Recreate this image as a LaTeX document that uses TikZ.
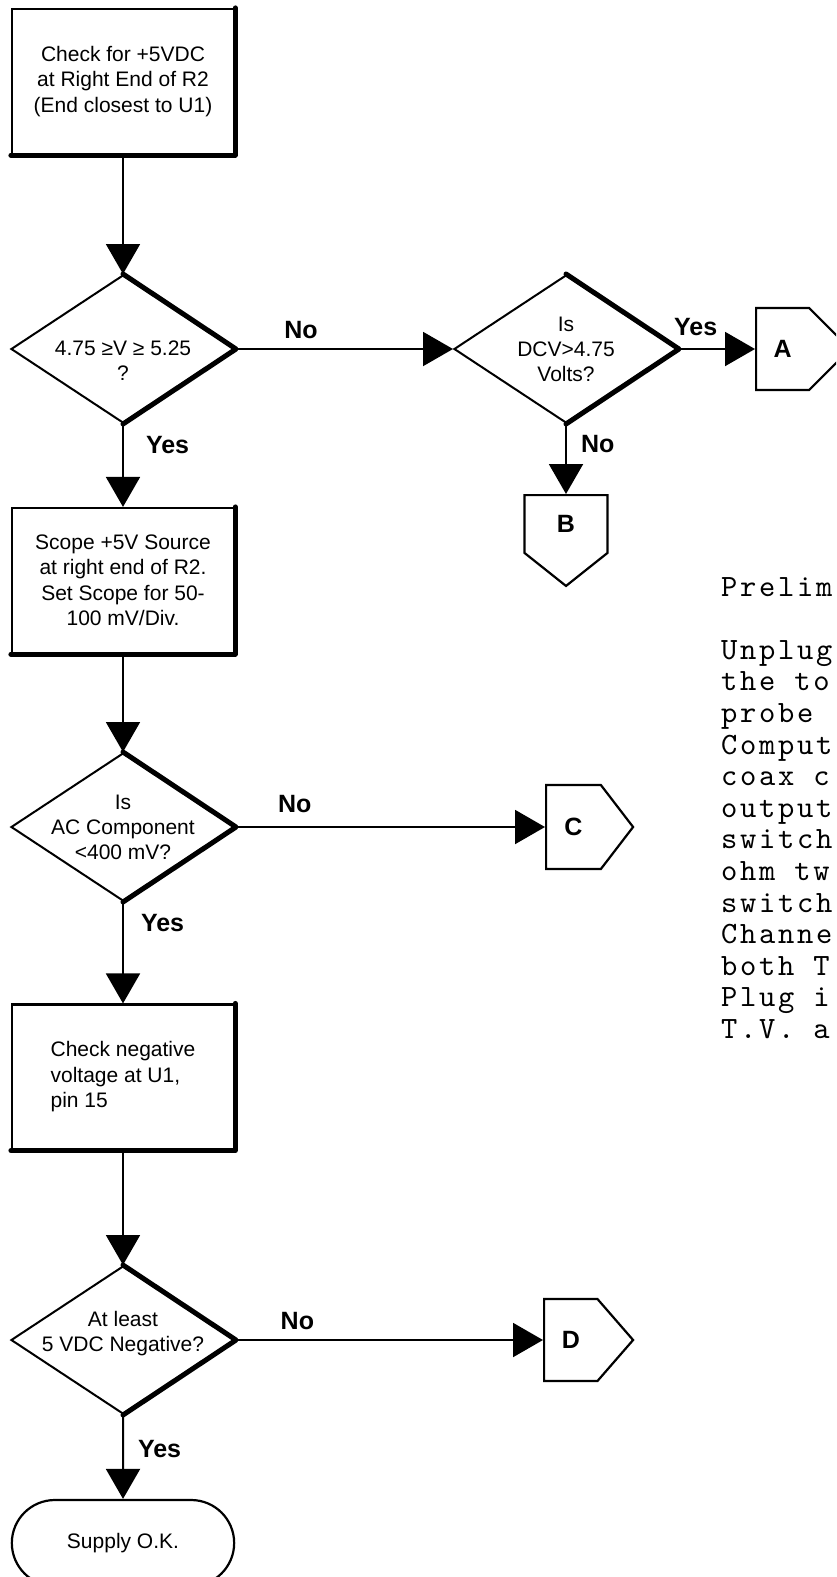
\documentclass[tikz,border=0pt]{standalone}
\usepackage{fontspec}
\setmainfont{Liberation Sans}
\newfontfamily\typewriter{lmmono10-regular}[Extension=.otf, LetterSpace=8.7]
\usetikzlibrary{shapes.geometric,shapes.symbols,shapes.misc,arrows.meta,positioning}
\tikzset
{
    process/.style={rectangle, draw=black, line width=2.2pt, minimum width=222pt, minimum height=145pt, align=center, font=\fontsize{21}{25.5}\selectfont},
    decision/.style={diamond, draw=black, line width=2pt, aspect=1.5, minimum width=224pt, minimum height=148pt, inner sep=-20pt, align=center, font=\fontsize{21}{25}\selectfont},
    terminal/.style={rounded rectangle, draw=black, line width=2.2pt, minimum width=229pt, minimum height=86pt, font=\fontsize{21}{25}\selectfont},
    offpage/.style={signal, draw=black, line width=2.2pt, signal pointer angle=105, inner sep=0pt, font=\bfseries\fontsize{25}{25}\selectfont},
    heavy/.style={line width=5pt, line cap=round, line join=round},
    arrow/.style={line width=2pt, -{Triangle[width=34pt,length=30pt]}},
    answer/.style={inner sep=0pt, font=\bfseries\fontsize{25}{25}\selectfont},
    notes/.style={anchor=north west, align=left, inner sep=0pt, font=\typewriter\fontsize{31}{31.6}\selectfont}
}

\begin{document}
\begin{tikzpicture}[node distance=250pt]
	\useasboundingbox (0,0) rectangle (836pt,-1577pt);
	\clip (0,0) rectangle (836pt,-1577pt);
	% main column
	\node (chk) [process] at (123pt,-81.5pt) {Check for +5VDC\\at Right End of R2\\(End closest to U1)};
	\node (d1) [decision, below of=chk, yshift=-17.5pt] {\rule{0pt}{37pt}4.75 ≥V ≥ 5.25\\?};
	\node (scope) [process, below of=d1, yshift=18.5pt] {Scope +5V Source\\at right end of R2.\\Set Scope for 50-\\100 mV/Div.};
	\node (d3) [decision, below of=scope, yshift=3.5pt] {Is\\AC Component\\<400 mV?};
	\node (neg) [process, below of=d3, align=left] {Check negative\\voltage at U1,\\pin 15};
	\node (d4) [decision, below of=neg, yshift=-13pt] {At least\\5 VDC Negative?\\[-8pt]\mbox{}};
	\node (ok) [terminal, below of=d4, yshift=47pt] {Supply O.K.};
	% side branch
	\node (d2) [decision, right of=d1, xshift=193pt] {Is\\DCV>4.75\\Volts?};
	\node (conA) [offpage, signal to=east, signal pointer angle=90, minimum width=94pt, minimum height=82pt, right of=d2, xshift=-61pt, anchor=west] {A};
	\node (conB) [offpage, signal to=south, signal pointer angle=103, minimum width=83pt, minimum height=65pt, below of=d2, yshift=105pt, anchor=north] {B};
	\node (conC) [offpage, signal to=east, minimum width=87pt, minimum height=84pt, right of=d3, xshift=172pt, anchor=west] {C};
	\node (conD) [offpage, signal to=east, signal pointer angle=98, minimum width=89pt, minimum height=82pt, right of=d4, xshift=170pt, anchor=west] {D};

	% heavy right/bottom edges
	\draw [heavy] (chk.north east) -- (chk.south east) -- (chk.south west);
	\draw [heavy] (scope.north east) -- (scope.south east) -- (scope.south west);
	\draw [heavy] (neg.north east) -- (neg.south east) -- (neg.south west);
	\draw [heavy] (d1.north) -- (d1.east) -- (d1.south);
	\draw [heavy] (d2.north) -- (d2.east) -- (d2.south);
	\draw [heavy] (d3.north) -- (d3.east) -- (d3.south);
	\draw [heavy] (d4.north) -- (d4.east) -- (d4.south);

	\draw [arrow] (chk) -- (d1);
	\draw [arrow] (d1) -- node[answer, pos=0.25, right=22pt] {Yes} (scope);
	\draw [arrow] (d1.east) -- node[answer, pos=0.3, above=9pt] {No} (d2.west);
	\draw [arrow] (d2.east) -- node[answer, pos=0.22, above=12pt] {Yes} (conA.west);
	\draw [arrow] (d2.south) -- node[answer, pos=0.28, right=14pt] {No} (conB.north);
	\draw [arrow] (scope) -- (d3);
	\draw [arrow] (d3.east) -- node[answer, pos=0.19, above=13pt] {No} (conC.west);
	\draw [arrow] (d3) -- node[answer, pos=0.21, right=17pt] {Yes} (neg);
	\draw [arrow] (neg) -- (d4);
	\draw [arrow] (d4.east) -- node[answer, pos=0.2, above=9pt] {No} (conD.west);
	\draw [arrow] (d4) -- node[answer, pos=0.4, right=14pt] {Yes} (ok);

	\node (notes) [notes] at (721pt,-577pt) {Prelim\\[31.6pt]Unplug\\the to\\probe\\Comput\\coax c\\output\\switch\\ohm tw\\switch\\Channe\\both T\\Plug i\\T.V. a};
\end{tikzpicture}
\end{document}
